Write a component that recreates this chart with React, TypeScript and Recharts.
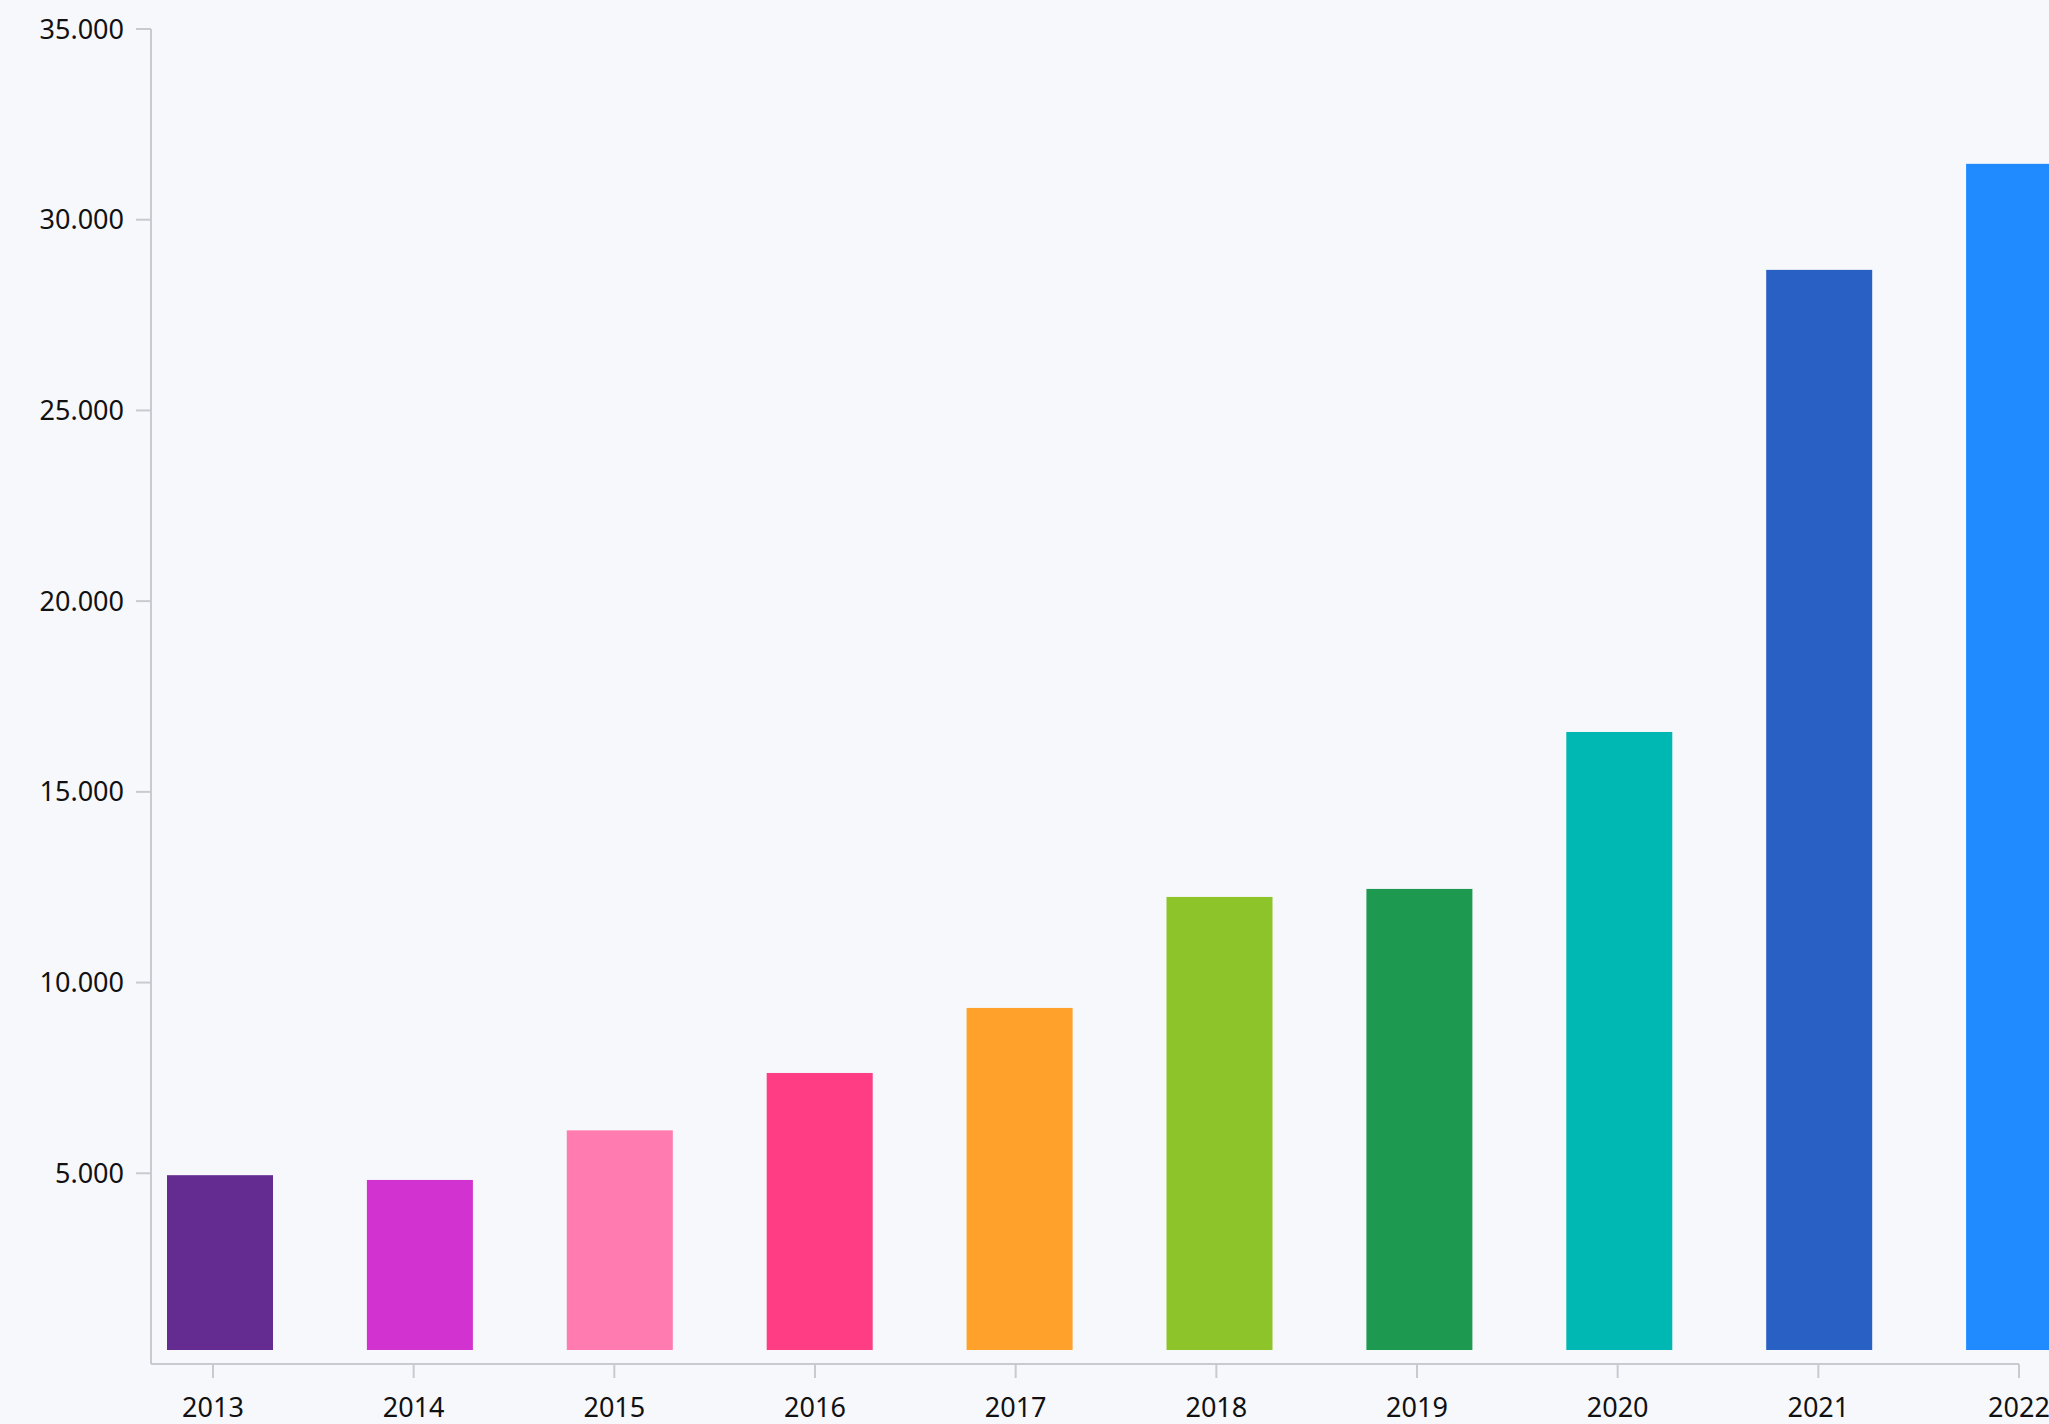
import React from 'react';
import { BarChart, Bar, XAxis, YAxis, Cell } from 'recharts';

const years = ['2013', '2014', '2015', '2016', '2017', '2018', '2019', '2020', '2021', '2022'];
const values = [4950, 4825, 6125, 7630, 9335, 12245, 12455, 16570, 28685, 31465];
const colors = ['#642c91', '#d232cf', '#ff7bb0', '#ff3d84', '#ffa12b', '#8cc42a', '#1e9a50', '#00b8b3', '#2860c3', '#1f8bff'];
const yTicks = [5000, 10000, 15000, 20000, 25000, 30000, 35000];

const data = years.map((year, i) => ({ year, value: values[i] }));

const fmt = (v: number) => String(v).replace(/\B(?=(\d{3})+(?!\d))/g, '.');

const axisColor = '#c8cacf';
const tickStyle = { fontSize: 27, fill: '#111111', fontFamily: 'Noto Sans' };

const TrimmedBar = (props: any) => {
  const { x, y, width, height, fill } = props;
  const h = Math.max(0, height - 14);
  return <rect x={x} y={y} width={width} height={h} fill={fill} />;
};

export default function App() {
  return (
    <div
      style={{
        position: 'absolute',
        left: 0,
        top: 0,
        width: 2049,
        height: 1424,
        overflow: 'hidden',
        background: '#f7f8fc',
      }}
    >
      <BarChart
        width={2049}
        height={1424}
        data={data}
        margin={{ top: 29, right: 30, bottom: 0, left: 0 }}
      >
        <XAxis
          xAxisId="ticks"
          dataKey="year"
          scale="point"
          padding={{ left: 62, right: 0 }}
          height={60}
          interval={0}
          tick={tickStyle}
          tickSize={14}
          tickMargin={20}
          axisLine={{ stroke: axisColor, strokeWidth: 2 }}
          tickLine={{ stroke: axisColor, strokeWidth: 2 }}
        />
        <XAxis xAxisId="bars" dataKey="year" hide height={0} padding={{ left: -31, right: -100 }} />
        <YAxis
          width={151}
          domain={[0, 35000]}
          ticks={yTicks}
          interval={0}
          tickFormatter={fmt}
          tick={tickStyle}
          tickSize={15}
          tickMargin={12}
          axisLine={{ stroke: axisColor, strokeWidth: 2 }}
          tickLine={{ stroke: axisColor, strokeWidth: 2 }}
        />
        <Bar xAxisId="bars" dataKey="value" barSize={106} isAnimationActive={false} shape={TrimmedBar}>
          {data.map((d, i) => (
            <Cell key={d.year} fill={colors[i]} />
          ))}
        </Bar>
      </BarChart>
    </div>
  );
}
